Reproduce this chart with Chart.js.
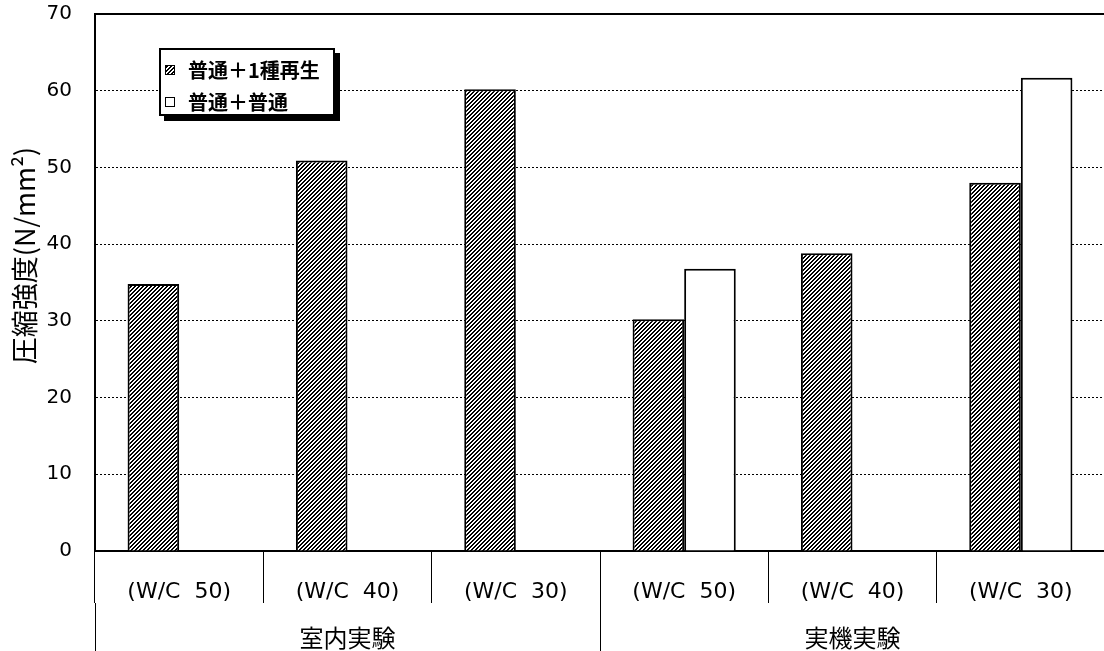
<!DOCTYPE html>
<html>
<head>
<meta charset="utf-8">
<script src="https://cdn.jsdelivr.net/npm/chart.js@4.4.0/dist/chart.umd.min.js"></script>
<style>
  html, body { margin: 0; padding: 0; background: #fff; overflow: hidden; }
  #wrap { position: relative; width: 1105px; height: 651px; }
  #legend {
    position: absolute; left: 159px; top: 48px; width: 172px; height: 64px;
    border: 2px solid #000; box-shadow: 5px 5px 0 #000; background: #fff;
    font: bold 20px "Noto Sans CJK JP", sans-serif; color: #000;
  }
  .item { position: absolute; left: 4px; height: 32px; line-height: 32px; display: flex; align-items: center; white-space: nowrap; }
  .sw { width: 8px; height: 8px; border: 1px solid #000; margin-right: 13px; background: #fff; }
</style>
</head>
<body>
<div id="wrap">
  <canvas id="chart"></canvas>
  <div id="legend"></div>
</div>
<script>
const categories = ['(W/C  50)', '(W/C  40)', '(W/C  30)', '(W/C  50)', '(W/C  40)', '(W/C  30)'];
const groups = ['室内実験', '実機実験'];
const seriesNames = ['普通＋1種再生', '普通＋普通'];
const recycled = [34.8, 50.9, 60.2, 30.2, 38.8, 48.0];
const normal = [null, null, null, 36.8, null, 61.7];
const yMin = 0;
const yMax = 70;
const yStep = 10;

// small tile of "////" stripes for the first series
function makeHatch() {
  const c = document.createElement('canvas');
  c.width = 4;
  c.height = 4;
  const g = c.getContext('2d');
  g.fillStyle = '#fff';
  g.fillRect(0, 0, 4, 4);
  g.fillStyle = '#000';
  for (let x = 0; x < 4; x++) {
    for (let y = 0; y < 4; y++) {
      if ((x + y) % 4 < 2) g.fillRect(x, y, 1, 1);
    }
  }
  return c;
}

const hatchTile = makeHatch();
const ctx = document.getElementById('chart').getContext('2d');
const hatch = ctx.createPattern(hatchTile, 'repeat');

// legend box inside the plot
const legendEl = document.getElementById('legend');
seriesNames.forEach((name, i) => {
  const item = document.createElement('div');
  item.className = 'item';
  item.style.top = (4 + i * 32) + 'px';
  const sw = document.createElement('span');
  sw.className = 'sw';
  if (i === 0) sw.style.backgroundImage = 'url(' + hatchTile.toDataURL() + ')';
  const txt = document.createElement('span');
  txt.textContent = name;
  item.appendChild(sw);
  item.appendChild(txt);
  legendEl.appendChild(item);
});

Chart.defaults.font.family = 'DejaVu Sans';
Chart.defaults.color = '#000';

// top gridline is the solid frame, the others are dotted
const isTop = (c) => c.tick && c.tick.value === yMax;

const chart = new Chart(ctx, {
  type: 'bar',
  data: {
    labels: categories,
    datasets: [
      {
        label: seriesNames[0],
        data: recycled,
        backgroundColor: hatch,
        borderColor: '#000',
        borderWidth: 2
      },
      {
        label: seriesNames[1],
        data: normal,
        backgroundColor: '#fff',
        borderColor: '#000',
        borderWidth: 2
      }
    ]
  },
  options: {
    responsive: true,
    maintainAspectRatio: false,
    animation: false,
    layout: { padding: { top: 14, right: 0, bottom: 0, left: 0 } },
    datasets: {
      bar: { categoryPercentage: 0.613, barPercentage: 1.0 }
    },
    plugins: {
      legend: { display: false },
      tooltip: { enabled: false }
    },
    scales: {
      x: {
        position: 'bottom',
        weight: 1,
        offset: true,
        grid: {
          offset: true,
          drawOnChartArea: false,
          color: '#000',
          tickColor: '#000',
          tickLength: 52,
          lineWidth: 1
        },
        border: { display: true, color: '#000', width: 2 },
        ticks: {
          font: { size: 22 },
          padding: -24,
          autoSkip: false,
          maxRotation: 0
        },
        afterFit: (scale) => { scale.height = 52; }
      },
      x2: {
        type: 'category',
        labels: groups,
        position: 'bottom',
        weight: 2,
        offset: true,
        grid: {
          offset: true,
          drawOnChartArea: false,
          color: '#000',
          tickColor: '#000',
          tickLength: 48,
          lineWidth: 1
        },
        border: { display: false },
        ticks: {
          font: { family: 'Noto Sans CJK JP', size: 24 },
          padding: -28,
          autoSkip: false,
          maxRotation: 0
        },
        afterFit: (scale) => { scale.height = 48; }
      },
      y: {
        min: yMin,
        max: yMax,
        ticks: {
          stepSize: yStep,
          font: { size: 20 },
          padding: 0
        },
        grid: {
          color: '#000',
          lineWidth: (c) => (isTop(c) ? 2 : 1),
          drawTicks: true,
          tickLength: 23,
          tickColor: 'rgba(0,0,0,0)'
        },
        border: {
          display: true,
          color: '#000',
          width: 2,
          dash: (c) => (isTop(c) ? [] : [2, 2])
        },
        title: {
          display: true,
          text: '\u3000\u3000圧縮強度(N/mm²)',
          font: { family: 'Noto Sans CJK JP', size: 27 },
          padding: { top: 9, bottom: 0 }
        },
        afterFit: (scale) => { scale.width = 95; }
      }
    }
  }
});
</script>
</body>
</html>
